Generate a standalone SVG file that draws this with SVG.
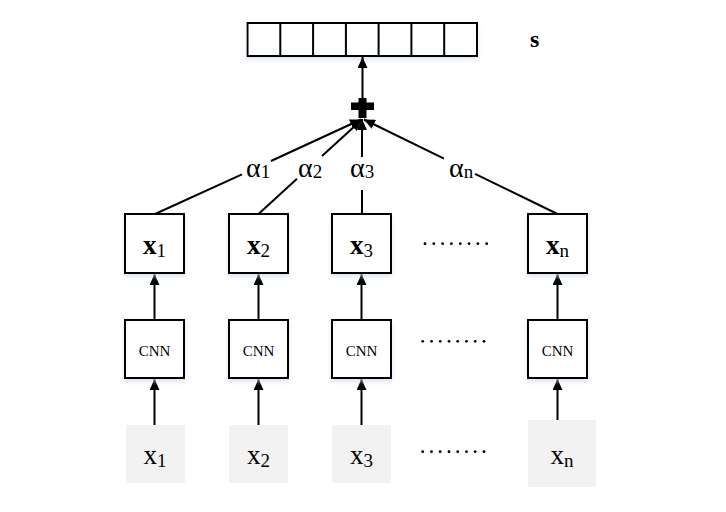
<svg xmlns="http://www.w3.org/2000/svg" width="726" height="512" viewBox="0 0 726 512">
<style>
.box{fill:#ffffff;stroke:#000;stroke-width:2;filter:url(#sh)}
.inp{fill:#f2f2f2;stroke:none}
.ln{stroke:#000;stroke-width:2;fill:none}
.arr{stroke:#000;stroke-width:2;fill:none;marker-end:url(#ah)}
.t{font-family:"Liberation Serif","Times New Roman",serif;fill:#000}
.bx{font-size:27px;font-weight:bold}
.ix{font-size:27px}
.sub{font-size:19px;font-weight:normal}
.cnn{font-size:15px}
.al{font-size:28px}
.asub{font-size:19px}
.dot{fill:#000}
</style>
<defs>
<marker id="ah" markerUnits="userSpaceOnUse" markerWidth="11" markerHeight="10" refX="11" refY="5" orient="auto">
<path d="M0,0 L11,5 L0,10 z" fill="#000"/>
</marker>
<filter id="sh" x="-20%" y="-20%" width="140%" height="150%">
<feDropShadow dx="0" dy="3" stdDeviation="2" flood-color="#c9d6ea" flood-opacity="0.6"/>
</filter>
</defs>

<g id="s-vector">
<rect class="box" x="247.5" y="23" width="229.5" height="33"/>
<path class="ln" d="M280.3,23V56M313.1,23V56M345.9,23V56M378.6,23V56M411.4,23V56M444.2,23V56"/>
<text class="t" x="530" y="46.5" font-size="24" font-weight="bold">s</text>
</g>

<g id="plus">
<rect x="351" y="102.5" width="23" height="7.5" fill="#000"/>
<rect x="358.5" y="98" width="8" height="20" fill="#000"/>
</g>

<g id="connectors">
<line class="arr" x1="362.5" y1="98" x2="362.5" y2="57"/>
<line class="ln" x1="155" y1="214" x2="242" y2="174.3"/>
<line class="arr" x1="271" y1="161" x2="361" y2="119.5"/>
<line class="ln" x1="258.5" y1="214" x2="297" y2="178.7"/>
<line class="arr" x1="322" y1="156" x2="361.5" y2="120"/>
<line class="ln" x1="362" y1="214" x2="362" y2="190"/>
<line class="arr" x1="362" y1="157" x2="362" y2="119"/>
<line class="ln" x1="557.5" y1="214" x2="475" y2="173.8"/>
<line class="arr" x1="444" y1="158.7" x2="364" y2="119.5"/>
<line class="arr" x1="154.5" y1="320" x2="154.5" y2="274"/>
<line class="arr" x1="258.5" y1="320" x2="258.5" y2="274"/>
<line class="arr" x1="361.5" y1="320" x2="361.5" y2="274"/>
<line class="arr" x1="557.5" y1="320" x2="557.5" y2="274"/>
<line class="arr" x1="154.5" y1="425" x2="154.5" y2="379"/>
<line class="arr" x1="258.5" y1="425" x2="258.5" y2="379"/>
<line class="arr" x1="361.5" y1="425" x2="361.5" y2="379"/>
<line class="arr" x1="557.5" y1="424" x2="557.5" y2="379"/>
</g>

<g id="alpha-labels">
<text class="t al" x="246" y="177">α<tspan class="asub" dy="1">1</tspan></text>
<text class="t al" x="298" y="177">α<tspan class="asub" dy="1">2</tspan></text>
<text class="t al" x="350" y="177">α<tspan class="asub" dy="1">3</tspan></text>
<text class="t al" x="449" y="177">α<tspan class="asub" dy="1">n</tspan></text>
</g>

<g id="h1"><rect class="box" x="125" y="214" width="59" height="59"/><text class="t bx" x="154.5" y="254" text-anchor="middle">x<tspan class="sub" dy="3">1</tspan></text></g>
<g id="h2"><rect class="box" x="229" y="214" width="59" height="59"/><text class="t bx" x="258.5" y="254" text-anchor="middle">x<tspan class="sub" dy="3">2</tspan></text></g>
<g id="h3"><rect class="box" x="332" y="214" width="59" height="59"/><text class="t bx" x="361.5" y="254" text-anchor="middle">x<tspan class="sub" dy="3">3</tspan></text></g>
<g id="hn"><rect class="box" x="528" y="214" width="59" height="59"/><text class="t bx" x="557.5" y="254" text-anchor="middle">x<tspan class="sub" dy="3">n</tspan></text></g>

<g id="cnn1"><rect class="box" x="125" y="320" width="59" height="58"/><text class="t cnn" x="154.5" y="356" text-anchor="middle">CNN</text></g>
<g id="cnn2"><rect class="box" x="229" y="320" width="59" height="58"/><text class="t cnn" x="258.5" y="356" text-anchor="middle">CNN</text></g>
<g id="cnn3"><rect class="box" x="332" y="320" width="59" height="58"/><text class="t cnn" x="361.5" y="356" text-anchor="middle">CNN</text></g>
<g id="cnnn"><rect class="box" x="528" y="320" width="59" height="58"/><text class="t cnn" x="557.5" y="356" text-anchor="middle">CNN</text></g>

<g id="in1"><rect class="inp" x="126" y="425" width="59" height="58"/><text class="t ix" x="155" y="464" text-anchor="middle">x<tspan class="sub" dy="3">1</tspan></text></g>
<g id="in2"><rect class="inp" x="229" y="425" width="59" height="58"/><text class="t ix" x="258.5" y="464" text-anchor="middle">x<tspan class="sub" dy="3">2</tspan></text></g>
<g id="in3"><rect class="inp" x="332" y="425" width="59" height="58"/><text class="t ix" x="361.5" y="464" text-anchor="middle">x<tspan class="sub" dy="3">3</tspan></text></g>
<g id="inn"><rect class="inp" x="528" y="420" width="68" height="67"/><text class="t ix" x="562" y="464" text-anchor="middle">x<tspan class="sub" dy="3">n</tspan></text></g>

<g id="ellipsis" class="dot">
<circle cx="425" cy="243.7" r="1.4"/><circle cx="433.8" cy="243.7" r="1.4"/><circle cx="442.6" cy="243.7" r="1.4"/><circle cx="451.4" cy="243.7" r="1.4"/><circle cx="460.3" cy="243.7" r="1.4"/><circle cx="469.1" cy="243.7" r="1.4"/><circle cx="477.9" cy="243.7" r="1.4"/><circle cx="486.7" cy="243.7" r="1.4"/>
<circle cx="422.7" cy="341.3" r="1.4"/><circle cx="431.5" cy="341.3" r="1.4"/><circle cx="440.2" cy="341.3" r="1.4"/><circle cx="449" cy="341.3" r="1.4"/><circle cx="457.7" cy="341.3" r="1.4"/><circle cx="466.5" cy="341.3" r="1.4"/><circle cx="475.2" cy="341.3" r="1.4"/><circle cx="484" cy="341.3" r="1.4"/>
<circle cx="422.7" cy="451.7" r="1.4"/><circle cx="431.5" cy="451.7" r="1.4"/><circle cx="440.2" cy="451.7" r="1.4"/><circle cx="449" cy="451.7" r="1.4"/><circle cx="457.7" cy="451.7" r="1.4"/><circle cx="466.5" cy="451.7" r="1.4"/><circle cx="475.2" cy="451.7" r="1.4"/><circle cx="484" cy="451.7" r="1.4"/>
</g>
</svg>
